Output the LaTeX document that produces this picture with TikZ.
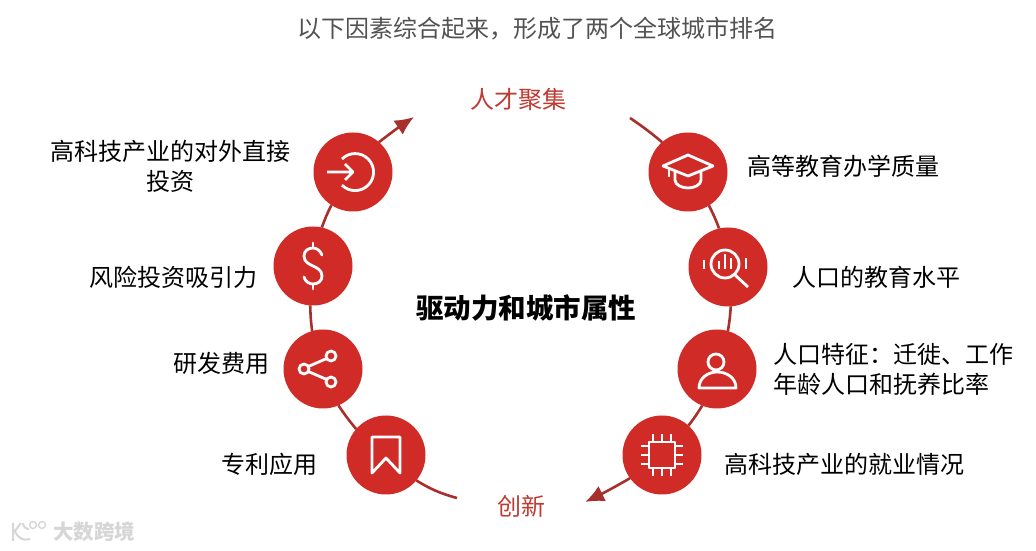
\documentclass[tikz,border=0pt]{standalone}
\usepackage{fontspec}
\setmainfont{Noto Sans CJK SC}
\usetikzlibrary{arrows.meta,positioning}
\definecolor{drive}{HTML}{D02B27}
\definecolor{linkred}{HTML}{A8302C}
\definecolor{headred}{HTML}{BE3B32}
\begin{document}
\begin{tikzpicture}[x=1pt,y=1pt,>=Latex,
ball/.style={circle,fill=drive,minimum size=79pt,inner sep=0pt,outer sep=0pt},
lab/.style={inner sep=0pt,align=center,font=\fontsize{24}{30}\selectfont},
head/.style={inner sep=0pt,text=headred,font=\fontsize{24}{30}\selectfont},
link/.style={draw=linkred,line width=2.6pt},
tip/.style={-{Latex[length=19pt,width=17pt]},draw=linkred,fill=drive,line width=2.6pt},
icon/.style={draw=white,line width=2.8pt,line join=round}]
\useasboundingbox (0,0) rectangle (1036,551);
\node[inner sep=0pt,text=black!68,font=\fontsize{24}{30}\selectfont] (title) at (537.5,522) {以下因素综合起来，形成了两个全球城市排名};
\node[head] (talent) at (518,452) {人才聚集};
\node[head] (innov) at (521,45) {创新};
\node[inner sep=0pt,font=\fontsize{27.5}{32}\selectfont\bfseries] (core) at (526,243) {驱动力和城市属性};
\node[ball] (fdi) at (353,379) {};
\node[ball] (venture) at (313,285) {};
\node[ball] (rnd) at (323,182) {};
\node[ball] (patent) at (386,96) {};
\node[ball] (edu) at (688,379) {};
\node[ball] (level) at (728,284) {};
\node[ball] (people) at (717,182) {};
\node[ball] (chip) at (662,96) {};
\node[lab,left=23pt of fdi,yshift=6pt] (fdilab) {高科技产业的对外直接\\投资};
\node[lab,left=16pt of venture,yshift=-11pt] (venturelab) {风险投资吸引力};
\node[lab,left=14pt of rnd,yshift=6pt] (rndlab) {研发费用};
\node[lab,left=29pt of patent,yshift=-9pt] (patentlab) {专利应用};
\node[lab,right=20pt of edu,yshift=6pt] (edulab) {高等教育办学质量};
\node[lab,right=25pt of level,yshift=-10pt] (levellab) {人口的教育水平};
\node[lab,right=17pt of people,align=left] (peoplelab) {人口特征：迁徙、工作\\年龄人口和抚养比率};
\node[lab,right=23pt of chip,yshift=-9pt] (chiplab) {高科技产业的就业情况};
\coordinate (leftstart) at (457,53);
\coordinate (lefttip) at (414,434);
\coordinate (rightstart) at (630,433);
\coordinate (righttip) at (585,49);
\draw[link] (leftstart) to[bend left=8] (patent.-40);
\draw[link] (patent.139) to[bend left=3] (rnd.-67);
\draw[link] (rnd.106) to[bend left=3] (venture.-94);
\draw[link] (venture.77) to[bend left=4] (fdi.237);
\draw[tip] (fdi.49) to[bend left=2] (lefttip);
\draw[link] (rightstart) to[bend left=3] (edu.131);
\draw[link] (edu.-58) to[bend left=3] (level.103);
\draw[link] (level.-86) to[bend left=3] (people.74);
\draw[link] (people.-112) to[bend left=3] (chip.48);
\draw[tip] (chip.216) to[bend left=2] (righttip);
% icons
\begin{scope}[shift={(fdi)},icon]
\draw (-11,13) arc (135:-135:18.5);
\draw (-26,0)--(0,0) (-8,8)--(0,0)--(-8,-8);
\end{scope}
\begin{scope}[shift={(venture)},icon,line cap=round]
\draw (9,11) .. controls (7,16) and (3,18) .. (0,18) .. controls (-5,18) and (-9,15) .. (-9,10) .. controls (-9,4) and (-4,2) .. (0,0) .. controls (4,-2) and (9,-4) .. (9,-10) .. controls (9,-15) and (5,-18) .. (0,-18) .. controls (-3,-18) and (-8,-16) .. (-9,-11);
\draw (0,23)--(0,18) (0,-18)--(0,-23);
\end{scope}
\begin{scope}[shift={(rnd)},icon]
\draw (8,13) circle (5) (-19,0) circle (5) (8,-13) circle (5);
\draw (3.7,10.5)--(-14.7,2.5) (-14.7,-2.5)--(3.7,-10.5);
\end{scope}
\begin{scope}[shift={(patent)},icon]
\draw (-14,18)--(14,18)--(14,-18)--(0,-3)--(-14,-18)--cycle;
\end{scope}
\begin{scope}[shift={(edu)},icon]
\draw (-25,6)--(0,17)--(25,6)--(0,-4)--cycle;
\draw (-13,1)--(-13,-8) .. controls (-13,-13) and (-6,-16) .. (0,-16) .. controls (6,-16) and (13,-13) .. (13,-8)--(13,1);
\draw (-19,4)--(-19,-5);
\end{scope}
\begin{scope}[shift={(level)},icon]
\draw (-3,3) circle (14);
\draw (7,-8)--(20,-20);
\draw (-9,6)--(-9,-2) (-3,13)--(-3,-2) (3,9)--(3,-2);
\draw (-24,7)--(-24,-2) (18,9)--(18,-2);
\end{scope}
\begin{scope}[shift={(people)},icon]
\draw (-1,7) circle (8);
\draw (-18,-19) .. controls (-18,-9) and (-9,-3) .. (0,-3) .. controls (10,-3) and (19,-9) .. (19,-19)--cycle;
\end{scope}
\begin{scope}[shift={(chip)},icon]
\draw (-13,-13) rectangle (13,13);
\draw (-9,13)--(-9,21) (0,13)--(0,21) (9,13)--(9,21) (-9,-13)--(-9,-21) (0,-13)--(0,-21) (9,-13)--(9,-21);
\draw (-13,9)--(-21,9) (-13,0)--(-21,0) (-13,-9)--(-21,-9) (13,9)--(21,9) (13,0)--(21,0) (13,-9)--(21,-9);
\end{scope}
% watermark
\node[inner sep=0pt,text=black!16,font=\fontsize{20.5}{24}\selectfont\bfseries] (mark) at (94,19) {大数跨境};
\draw[black!16,line width=2pt] (13,28)--(13,10) (21,28)--(15,20) .. controls (18,12) and (24,10) .. (30,12) (23,28) arc (180:270:6);
\draw[black!16,line width=1.4pt] (33,26) circle (3.5) (42,26) circle (3.5);
\end{tikzpicture}
\end{document}
